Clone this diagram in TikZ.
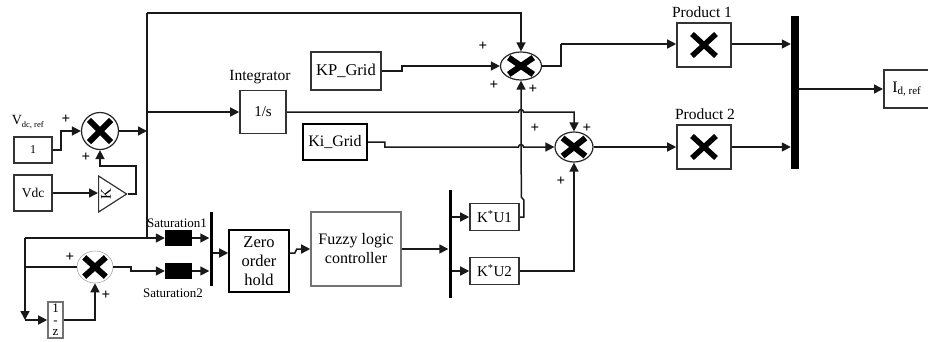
\documentclass[tikz,border=0pt]{standalone}
\usepackage{fontspec}
\setmainfont{Liberation Serif}
\usetikzlibrary{shapes.geometric,arrows.meta,calc}
\tikzset{
  x=1pt,y=-1pt,
  conn/.style={line width=1.5pt,draw=black!90,-{Triangle[length=9pt,width=9pt]}},
  wire/.style={line width=1.5pt,draw=black!90},
  blk/.style={draw=black!80,line width=1.6pt,fill=white,inner sep=0pt,align=center,font=\fontsize{15}{17}\selectfont},
  sumnode/.style={ellipse,draw=black!85,line width=1.2pt,inner sep=0pt,fill=white,
    path picture={\draw[line width=6pt,black]
      ($(path picture bounding box.north west)!.2!(path picture bounding box.south east)$)--
      ($(path picture bounding box.north west)!.8!(path picture bounding box.south east)$)
      ($(path picture bounding box.south west)!.2!(path picture bounding box.north east)$)--
      ($(path picture bounding box.south west)!.8!(path picture bounding box.north east)$);}},
  barnode/.style={fill=black,inner sep=0pt},
  satblk/.style={fill=black,inner sep=0pt,minimum width=27pt,minimum height=16pt},
  lbl/.style={font=\fontsize{15.5}{17}\selectfont,inner sep=0pt},
  satlbl/.style={font=\fontsize{13}{15}\selectfont,inner sep=0pt},
  pl/.style={font=\bfseries\fontsize{15}{15}\selectfont,inner sep=0pt},
  prodmark/.style={line width=5.5pt,black},
}
\begin{document}
\begin{tikzpicture}
\useasboundingbox (0,0) rectangle (928,341);
% blocks
\node[blk,minimum width=38pt,minimum height=26pt,font=\fontsize{12}{14}\selectfont] (one) at (33,150) {1};
\node[blk,minimum width=38pt,minimum height=36pt,font=\fontsize{13.5}{15}\selectfont] (vdc) at (33,193) {Vdc};
\node[inner sep=0pt,font=\fontsize{14}{16}\selectfont] (vref) at (28,122) {V\textsubscript{\fontsize{8.5}{9}\selectfont dc, ref}};
\node[sumnode,minimum width=37pt,minimum height=37pt] (s1) at (100,131) {};
\node[draw=black!80,line width=1.2pt,isosceles triangle,isosceles triangle stretches,inner sep=0pt,minimum height=28pt,minimum width=36pt,anchor=west,fill=white] (gain) at (98,194) {};
\node[rotate=90,font=\fontsize{15}{15}\selectfont,inner sep=0pt] (klab) at (106,194) {K};
\node[blk,minimum width=46pt,minimum height=43pt] (integ) at (263,112) {1/s};
\node[lbl] (integl) at (260,77) {Integrator};
\node[blk,minimum width=70pt,minimum height=38pt,font=\fontsize{16.5}{18}\selectfont] (kp) at (346,71) {KP\_Grid};
\node[blk,draw=black,minimum width=64pt,minimum height=36pt,font=\fontsize{16}{18}\selectfont] (ki) at (335,142) {Ki\_Grid};
\node[sumnode,minimum width=41pt,minimum height=28pt] (s2) at (521,66) {};
\node[sumnode,minimum width=38pt,minimum height=30pt] (s3) at (574,147) {};
\node[blk,minimum width=54pt,minimum height=44pt] (p1) at (704,45) {};
\node[blk,minimum width=54pt,minimum height=44pt] (p2) at (704,147) {};
\draw[prodmark] (692,34)--(716,56) (692,56)--(716,34);
\draw[prodmark] (692,136)--(716,158) (692,158)--(716,136);
\node[lbl] (p1l) at (702,12) {Product 1};
\node[lbl] (p2l) at (705,114) {Product 2};
\node[barnode,minimum width=8pt,minimum height=153pt] (bar3) at (795,92) {};
\node[blk,minimum width=46pt,minimum height=38pt,anchor=west,font=\fontsize{16}{18}\selectfont] (idref) at (883,89) {I\textsubscript{\fontsize{11}{12}\selectfont d, ref}};
\node[satblk] (sat1) at (178.5,238) {};
\node[satblk] (sat2) at (178.5,271) {};
\node[satlbl] (sat1l) at (177,223) {Saturation1};
\node[satlbl] (sat2l) at (173,293) {Saturation2};
\node[barnode,minimum width=3pt,minimum height=74pt] (bar1) at (211,249) {};
\node[blk,draw=black,minimum width=60pt,minimum height=62pt,font=\fontsize{16.5}{19}\selectfont] (zoh) at (259,261) {Zero\\order\\hold};
\node[blk,draw=black!55,minimum width=90pt,minimum height=74pt,font=\fontsize{16}{19}\selectfont] (fuzzy) at (356,249) {Fuzzy logic\\controller};
\node[barnode,minimum width=3pt,minimum height=108pt] (bar2) at (450,244) {};
\node[blk,minimum width=49pt,minimum height=27pt,font=\fontsize{15}{17}\selectfont] (ku1) at (494.5,217) {K\textsuperscript{*}U1};
\node[blk,minimum width=49pt,minimum height=27pt,font=\fontsize{15}{17}\selectfont] (ku2) at (494.5,271) {K\textsuperscript{*}U2};
\node[sumnode,draw=black!35,line width=.6pt,minimum width=36pt,minimum height=32pt] (s4) at (95,267) {};
\node[blk,draw=black!55,minimum width=15pt,minimum height=36pt,font=\fontsize{13}{11.5}\selectfont] (z) at (55.5,320) {1\\-\\z};
% plus signs
\node[pl] (pa) at (66,119) {+};
\node[pl] (pb) at (86,157) {+};
\node[pl] (pc) at (70,257) {+};
\node[pl] (pd) at (106,295) {+};
\node[pl] (pe) at (483,46) {+};
\node[pl] (pf) at (494,85) {+};
\node[pl] (pg) at (533,89) {+};
\node[pl] (ph) at (535,128) {+};
\node[pl] (pi) at (587,128) {+};
\node[pl] (pj) at (561,181) {+};
% junctions
\coordinate (ttop) at (147,13);
\coordinate (tbot) at (147,238);
\coordinate (tmid) at (147,131);
\coordinate (tint) at (147,112);
\coordinate (left) at (25,238);
\coordinate (zleft) at (25,320);
\coordinate (s4in) at (25,267);
% connectors
\draw[conn] (one.east) -- ++(8,0) -- ++(0,-19) -- (s1.west);
\draw[conn] (vdc.east) -- (gain.west |- vdc.east);
\draw[conn] (gain.east) -- ++(8,0) -- ++(0,-28) -| (s1.south);
\draw[conn] (s1.east) -- (tmid);
\draw[wire] (tbot) -- (ttop);
\draw[conn] (ttop) -| (s2.north);
\draw[conn] (tint) -- (integ.west);
\draw[conn] (left) -- (sat1.west);
\draw[conn] (left) -- (zleft);
\draw[conn] (zleft) -- (z.west);
\draw[wire] (s4in) -- (s4.west);
\draw[conn] (s4.east) -- (131,267) -- (131,271) -- (sat2.west);
\draw[conn] (z.east) -| (s4.south);
\draw[conn] (sat1.east) -- (sat1.east -| bar1.west);
\draw[conn] (sat2.east) -- (sat2.east -| bar1.west);
\draw[conn] (bar1.east |- 0,253) -- (zoh.west |- 0,253);
\draw[conn] (zoh.east) ++(0,-8) -- ++(5,0) -- ++(2,-4) -- (fuzzy.west);
\draw[conn] (fuzzy.east) -- (bar2.west |- fuzzy.east);
\draw[conn] (bar2.east |- ku1.west) -- (ku1.west);
\draw[conn] (bar2.east |- ku2.west) -- (ku2.west);
\draw[conn] (ku1.east) -- ++(4,0) -- ++(0,-17) -- ++(-2.5,-3) -- (s2.south);
\draw[conn] (ku2.east) -| (s3.south);
\draw[conn] (kp.east) -- ++(20,0) -- ++(0,-5) -- (s2.west);
\draw[conn] (integ.east) -- (518.5,112) arc[start angle=180,end angle=360,radius=2.5] -- (574,112) -- (s3.north);
\draw[conn] (ki.east) -- ++(17,0) -- ++(0,5) -- (518.5,147) arc[start angle=180,end angle=360,radius=2.5] -- (s3.west);
\draw[wire] (s2.east) -- (561,66) -- (561,44);
\draw[conn] (561,44) -- (p1.west |- 561,44);
\draw[conn] (s3.east) -- (p2.west);
\draw[conn] (p1.east |- 0,44) -- (bar3.west |- 0,44);
\draw[conn] (p2.east) -- (bar3.west |- p2.east);
\draw[conn] (bar3.east |- idref.west) -- (idref.west);
\end{tikzpicture}
\end{document}
